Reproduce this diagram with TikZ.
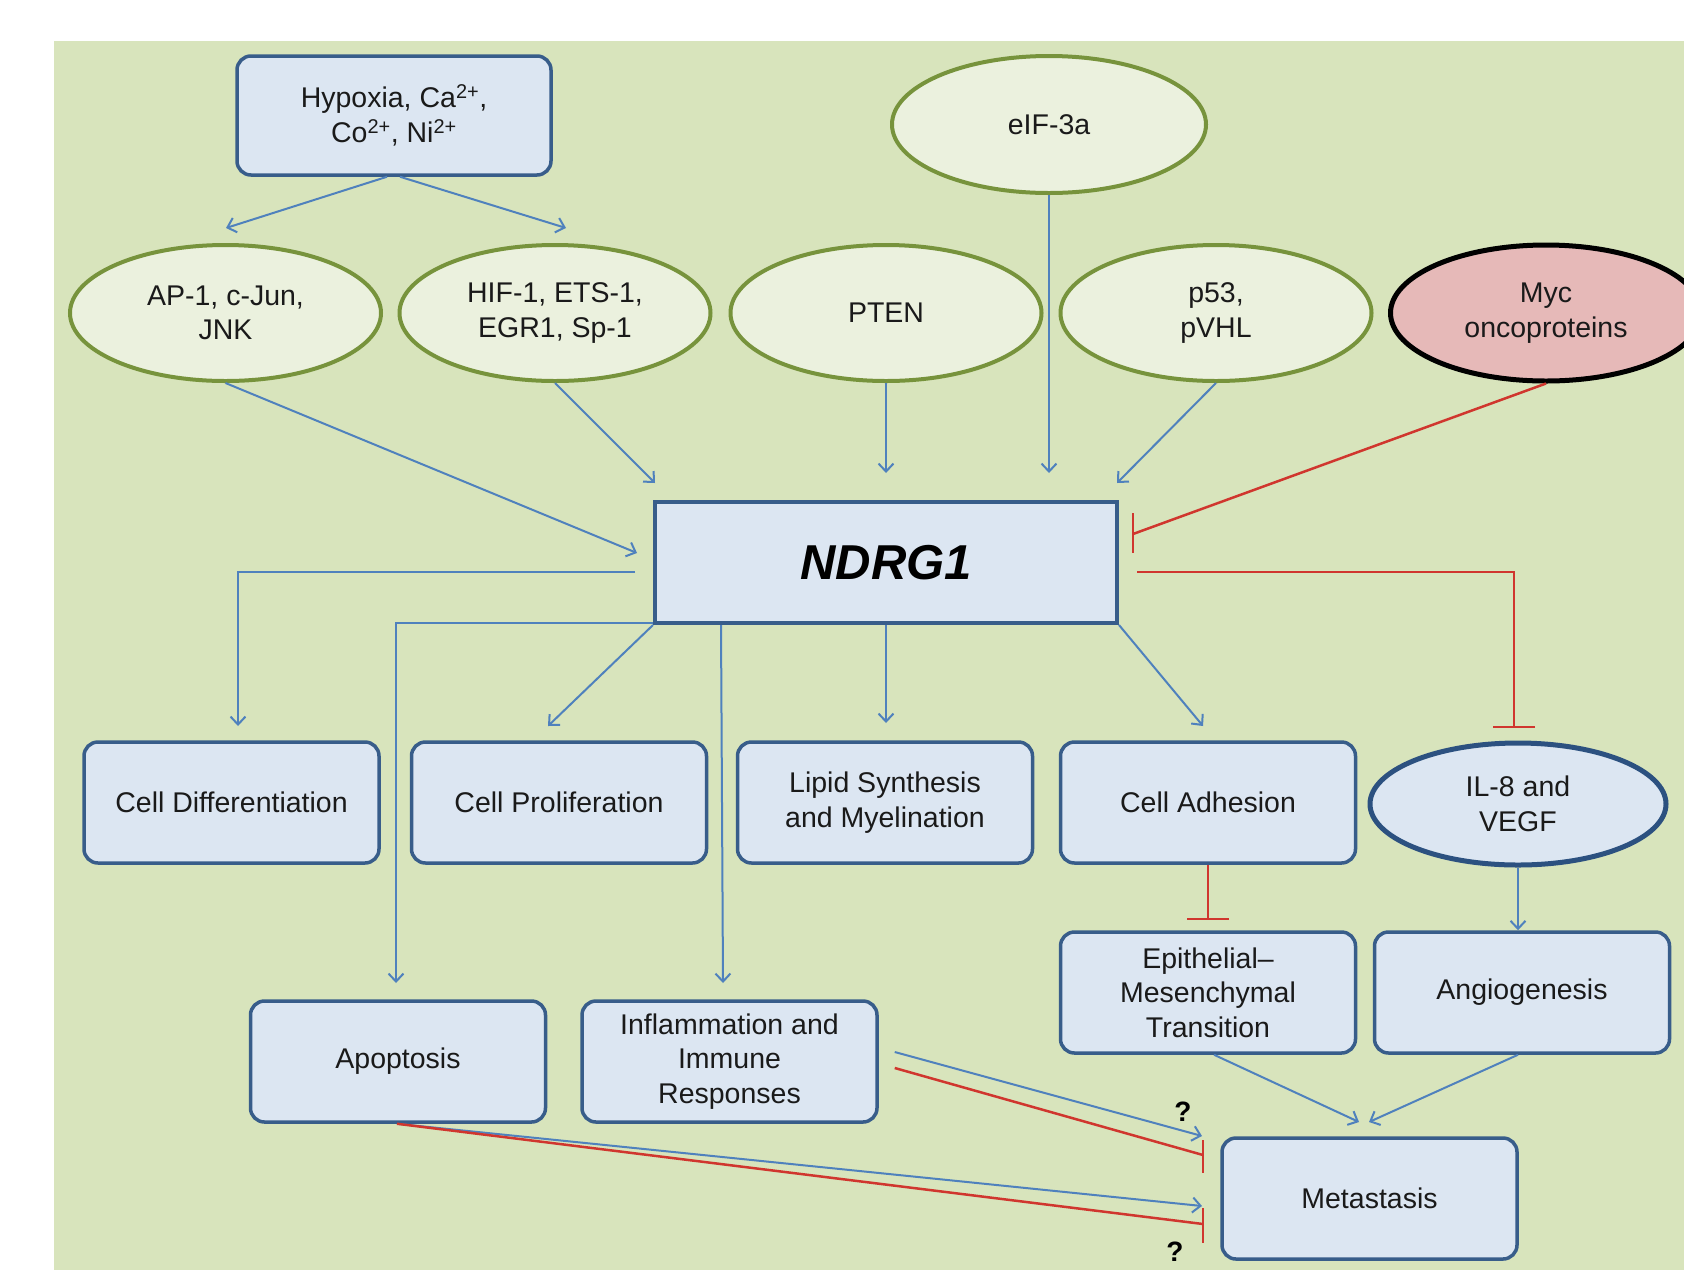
\documentclass[tikz,border=0pt]{standalone}
\usepackage{fontspec}
\setmainfont{Liberation Sans}
\usetikzlibrary{shapes.geometric, arrows.meta, calc}
\definecolor{bggreen}{HTML}{D8E4BC}
\definecolor{boxfill}{HTML}{DCE6F2}
\definecolor{boxborder}{HTML}{385D8A}
\definecolor{ellfill}{HTML}{EBF1DE}
\definecolor{ellborder}{HTML}{77933C}
\definecolor{mycfill}{HTML}{E6B9B8}
\definecolor{actblue}{HTML}{4F81BD}
\definecolor{inhred}{HTML}{D0362E}
\definecolor{ilborder}{HTML}{2C5180}
\definecolor{txt}{HTML}{1A1A1A}
\newcommand\diagfont{\fontsize{28.5}{34.5}\selectfont}
\begin{document}
\begin{tikzpicture}[x=1pt,y=-1pt,
  every node/.style={text=txt, font=\diagfont, align=center},
  procbox/.style={draw=boxborder, line width=3.5pt, fill=boxfill, rounded corners=14pt,
    minimum width=295pt, minimum height=121pt, inner sep=0pt},
  ell/.style={ellipse, draw=ellborder, line width=4pt, fill=ellfill,
    minimum width=311pt, minimum height=136pt, inner sep=0pt},
  act/.style={draw=actblue, line width=2pt, -{Straight Barb[length=8pt,width=15pt,line width=2pt]}},
  inh/.style={draw=inhred, line width=2.5pt},
  inhbar/.style={draw=inhred, line width=2.5pt, -{Bar[width=42pt,line width=2.5pt]}},
  qmark/.style={font=\fontsize{28}{30}\selectfont\bfseries, text=black}
]
\clip (0,0) rectangle (1684,1270);
\fill[white] (0,0) rectangle (1684,1270);
\fill[bggreen] (54,41) rectangle (1684,1270);

% top nodes
\node[procbox, minimum width=314pt, minimum height=119pt] (hyp) at (394,115.5)
  {Hypoxia, Ca\textsuperscript{2+},\\Co\textsuperscript{2+}, Ni\textsuperscript{2+}};
\node[ell, minimum width=314pt, minimum height=137pt] (eif) at (1049,124.5) {eIF-3a};
\node[ell] (ap1) at (225.5,313) {AP-1, c-Jun,\\JNK};
\node[ell] (hif) at (555,313) {HIF-1, ETS-1,\\EGR1, Sp-1};
\node[ell] (pten) at (886,313) {PTEN};
\node[ell] (p53) at (1216,313) {p53,\\pVHL};
\node[ell, fill=mycfill, draw=black, line width=5pt] (myc) at (1546,313) {Myc\\oncoproteins};

% central node
\node[draw=boxborder, line width=4pt, fill=boxfill, minimum width=462pt, minimum height=121pt,
  inner sep=0pt, font=\fontsize{49}{55}\selectfont\bfseries\itshape, text=black] (ndrg) at (886,562.5) {NDRG1};

% middle row
\node[procbox] (cd) at (231.5,802.5) {Cell Differentiation};
\node[procbox] (cp) at (559,802.5) {Cell Proliferation};
\node[procbox] (lip) at (885,802.5) {Lipid Synthesis\\and Myelination};
\node[procbox] (ca) at (1208,802.5) {Cell Adhesion};
\node[ellipse, draw=ilborder, line width=5pt, fill=boxfill, minimum width=296pt, minimum height=122pt,
  inner sep=0pt] (il8) at (1518,804) {IL-8 and\\VEGF};

% lower rows
\node[procbox] (emt) at (1208,992.5) {Epithelial--\\Mesenchymal\\Transition};
\node[procbox] (ang) at (1522,992.5) {Angiogenesis};
\node[procbox] (apo) at (398,1061.5) {Apoptosis};
\node[procbox] (inf) at (729.5,1061.5) {Inflammation and\\Immune\\Responses};
\node[procbox] (met) at (1369.5,1198.5) {Metastasis};

% free ends
\coordinate (e1) at (226,228);
\coordinate (e2) at (566,228);
\coordinate (n1) at (637,553);
\coordinate (n2) at (655,483);
\coordinate (n3) at (886,473);
\coordinate (n4) at (1049,473);
\coordinate (n5) at (1117,483);
\coordinate (n6) at (1133,534);
\coordinate (t2) at (1514,728);
\coordinate (cdin) at (238,726);
\coordinate (apin) at (396,983);
\coordinate (cpin) at (548,726);
\coordinate (infin) at (723,983);
\coordinate (lipin) at (886,723);
\coordinate (cain) at (1203,726);
\coordinate (emtin) at (1208,920);
\coordinate (m1) at (1359,1122);
\coordinate (m2) at (1369,1122);
\coordinate (m3) at (1202,1136);
\coordinate (m4) at (1203,1155);
\coordinate (m5) at (1202,1206);
\coordinate (m6) at (1203,1224);

% inputs
\draw[act] ([xshift=-7pt]hyp.south) -- (e1);
\draw[act] ([xshift=6pt]hyp.south) -- (e2);
\draw[act] (ap1.south) -- (n1);
\draw[act] (hif.south) -- (n2);
\draw[act] (pten.south) -- (n3);
\draw[act] (eif.south) -- (n4);
\draw[act] (p53.south) -- (n5);
\draw[inh] (myc.south) -- (n6);
\draw[inh] ($(n6)+(0,-21)$) -- ($(n6)+(0,19)$);

% outputs
\draw[inhbar] ([xshift=18pt,yshift=-9.5pt]ndrg.east) -| (t2);
\draw[act] ([xshift=-18pt,yshift=-9.5pt]ndrg.west) -| (cdin);
\draw[act] ([yshift=2pt]ndrg.south west) -| (apin);
\draw[act] (ndrg.south west) -- (cpin);
\draw[act] ($(ndrg.south west)+(68,0)$) -- (infin);
\draw[act] (ndrg.south) -- (lipin);
\draw[act] (ndrg.south east) -- (cain);

\draw[inhbar] (ca.south) -- (emtin);
\draw[act] (il8.south) -- (il8.south |- ang.north);
\draw[act] ([xshift=6pt]emt.south) -- (m1);
\draw[act] ([xshift=-4pt]ang.south) -- (m2);

\draw[act] ($(inf.east)+(16,-9.5)$) -- (m3);
\draw[inh] ($(inf.east)+(16,6.5)$) -- (m4);
\draw[inh] ($(m4)+(0,-15)$) -- ($(m4)+(0,18)$);
\draw[act] ([xshift=-1pt]apo.south) -- (m5);
\draw[inh] ([xshift=-1pt]apo.south) -- (m6);
\draw[inh] ($(m6)+(0,-16)$) -- ($(m6)+(0,19)$);

\node[qmark] (q1) at (1183,1112) {?};
\node[qmark] (q2) at (1175,1252) {?};
\end{tikzpicture}
\end{document}
